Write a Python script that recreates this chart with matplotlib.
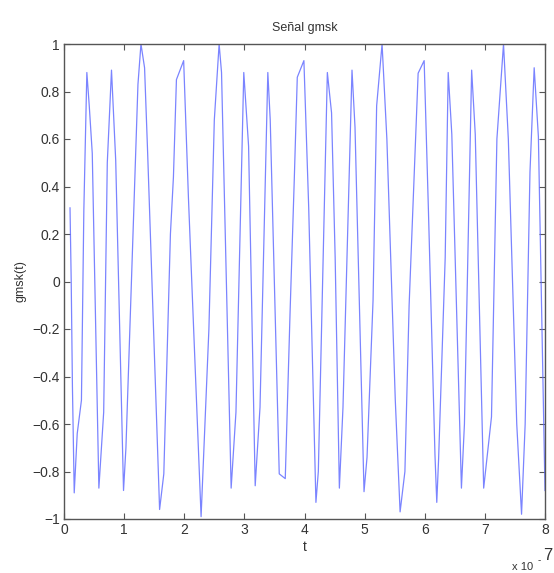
import matplotlib
matplotlib.use("Agg")
import matplotlib.pyplot as plt

plt.rcParams['font.family'] = ['Liberation Sans', 'DejaVu Sans']

# time (units of 1e-7 s) and signal values
t_vals = [0.10, 0.12, 0.14, 0.17, 0.22, 0.29, 0.33, 0.38, 0.42, 0.47,
          0.58, 0.66, 0.72, 0.79, 0.86, 0.99, 1.03, 1.23, 1.28, 1.34,
          1.39, 1.59, 1.66, 1.77, 1.82, 1.87, 1.99, 2.07, 2.28, 2.41,
          2.50, 2.58, 2.62, 2.78, 2.86, 2.99, 3.07, 3.18, 3.26, 3.39,
          3.43, 3.58, 3.68, 3.76, 3.83, 3.88, 3.99, 4.07, 4.19, 4.23,
          4.38, 4.45, 4.51, 4.58, 4.64, 4.79, 4.84, 4.99, 5.04, 5.14,
          5.20, 5.29, 5.37, 5.51, 5.59, 5.67, 5.74, 5.89, 5.99, 6.06,
          6.17, 6.20, 6.23, 6.34, 6.39, 6.45, 6.61, 6.66, 6.78, 6.84,
          6.98, 7.11, 7.20, 7.31, 7.39, 7.53, 7.61, 7.67, 7.75, 7.82,
          7.89, 8.00]
g_vals = [0.31, 0.00, -0.44, -0.89, -0.64, -0.50, 0.30, 0.88, 0.74, 0.54,
          -0.87, -0.55, 0.50, 0.89, 0.51, -0.88, -0.70, 0.83, 1.00, 0.90,
          0.55, -0.96, -0.81, 0.20, 0.44, 0.85, 0.93, 0.35, -0.99, -0.20,
          0.68, 1.00, 0.88, -0.87, -0.55, 0.88, 0.57, -0.86, -0.53, 0.88,
          0.68, -0.81, -0.83, -0.13, 0.43, 0.86, 0.93, 0.31, -0.93, -0.80,
          0.88, 0.71, 0.10, -0.87, -0.53, 0.89, 0.65, -0.885, -0.74, -0.08,
          0.74, 1.00, 0.60, -0.50, -0.97, -0.80, -0.10, 0.877, 0.93, 0.31,
          -0.73, -0.93, -0.75, 0.10, 0.88, 0.62, -0.87, -0.60, 0.89, 0.62,
          -0.87, -0.57, 0.60, 1.00, 0.60, -0.60, -0.98, -0.60, 0.46, 0.90,
          0.61, -0.88]
x_ticks = [0, 1, 2, 3, 4, 5, 6, 7, 8]
y_ticks = [-1, -0.8, -0.6, -0.4, -0.2, 0, 0.2, 0.4, 0.6, 0.8, 1]
y_labels = ['\u22121', '\u22120.8', '\u22120.6', '\u22120.4', '\u22120.2', '0',
            '0.2', '0.4', '0.6', '0.8', '1']

fig = plt.figure(figsize=(5.54, 5.73), dpi=100)
ax = fig.add_axes([64/554, 54/573, (545-64)/554, (519-44)/573])
ax.plot(t_vals, g_vals, color='#5a66ff', lw=0.9, alpha=0.8)
ax.set_xlim(0, 8)
ax.set_ylim(-1, 1)
ax.set_xticks(x_ticks)
ax.set_xticklabels([str(v) for v in x_ticks])
ax.set_yticks(y_ticks)
ax.set_yticklabels(y_labels)
ax.tick_params(direction='in', top=True, right=True, length=4, width=0.8,
               color='#555555', labelsize=10, labelcolor='#333333', pad=3)
for s in ax.spines.values():
    s.set_color('#555555')
    s.set_linewidth(1.0)
ax.set_title('Señal gmsk', fontsize=9, color='#333333', pad=9)
ax.set_xlabel('t', fontsize=10, color='#333333', labelpad=2)
ax.set_ylabel('gmsk(t)', fontsize=9, color='#333333', labelpad=4)
fig.text(523/554, 1 - 567/573, 'x 10', fontsize=8, color='#333333', ha='center', va='center')
fig.text(539/554, 1 - 560/573, '-', fontsize=7, color='#333333', ha='center', va='center')
fig.text(548/554, 1 - 555/573, '7', fontsize=12, color='#333333', ha='center', va='center')
fig.savefig('out.png', dpi=100)
